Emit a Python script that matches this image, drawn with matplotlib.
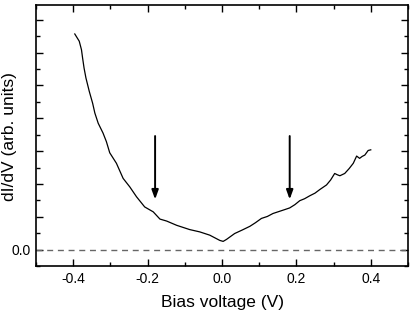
import numpy as np
import matplotlib
matplotlib.use("Agg")
import matplotlib.pyplot as plt
from matplotlib.ticker import MultipleLocator

plt.rcParams['font.family'] = ['Liberation Sans', 'DejaVu Sans']

# dI/dV curve
bias = [-0.396, -0.384, -0.378, -0.375, -0.371, -0.366, -0.357, -0.348, -0.342,
        -0.333, -0.320, -0.311, -0.302, -0.284, -0.266, -0.248, -0.230, -0.208,
        -0.185, -0.167, -0.149, -0.122, -0.087, -0.060, -0.033, -0.006, 0.003,
        0.012, 0.034, 0.055, 0.075, 0.090, 0.106, 0.122, 0.137, 0.153, 0.169,
        0.182, 0.196, 0.209, 0.222, 0.236, 0.250, 0.263, 0.281, 0.292, 0.303,
        0.310, 0.317, 0.330, 0.342, 0.353, 0.362, 0.370, 0.377, 0.384, 0.393,
        0.400]
didv = [6.57, 6.35, 6.09, 5.84, 5.53, 5.23, 4.82, 4.46, 4.16,
        3.85, 3.55, 3.29, 2.95, 2.63, 2.17, 1.91, 1.61, 1.30,
        1.15, 0.93, 0.87, 0.74, 0.61, 0.54, 0.44, 0.28, 0.25,
        0.31, 0.49, 0.60, 0.71, 0.82, 0.95, 1.01, 1.10, 1.16, 1.22,
        1.27, 1.37, 1.49, 1.55, 1.64, 1.72, 1.83, 1.97, 2.12, 2.32,
        2.28, 2.25, 2.32, 2.47, 2.63, 2.85, 2.78, 2.84, 2.88, 3.02,
        3.04]

arrow_x = [-0.18, 0.182]
arrow_top = 3.46
arrow_tip = 1.53

fig = plt.figure(figsize=(4.15, 3.18), dpi=100)
ax = fig.add_axes([0.087, 0.1635, 0.896, 0.8205])

ax.plot(bias, didv, color='black', lw=0.9)
ax.axhline(0, color='#666666', lw=1.0, linestyle=(0, (4.3, 3.4)))

for xa in arrow_x:
    ax.annotate('', xy=(xa, arrow_tip), xytext=(xa, arrow_top),
                arrowprops=dict(arrowstyle='-|>,head_length=0.55,head_width=0.2',
                                color='black', lw=1.4, shrinkA=0, shrinkB=0))

ax.set_xlim(-0.5, 0.5)
ax.set_ylim(-0.5, 7.45)
ax.xaxis.set_minor_locator(MultipleLocator(0.1))
ax.yaxis.set_minor_locator(MultipleLocator(0.5))
ax.set_xticks([-0.4, -0.2, 0.0, 0.2, 0.4])
ax.set_xticklabels(['-0.4', '-0.2', '0.0', '0.2', '0.4'])
ax.set_yticks([0, 1, 2, 3, 4, 5, 6, 7])
ax.set_yticklabels(['0.0', '', '', '', '', '', '', ''])

ax.tick_params(which='both', direction='in', top=True, right=True,
               labelsize=10, width=1.0, pad=4)
ax.tick_params(which='major', length=5)
ax.tick_params(which='minor', length=3)
for s in ax.spines.values():
    s.set_linewidth(1.2)

ax.set_xlabel('Bias voltage (V)', fontsize=12.5, labelpad=7)
ax.set_ylabel('dI/dV (arb. units)', fontsize=12.5)
ax.yaxis.set_label_coords(-0.052, 0.497)

fig.savefig('out.png', dpi=100)
